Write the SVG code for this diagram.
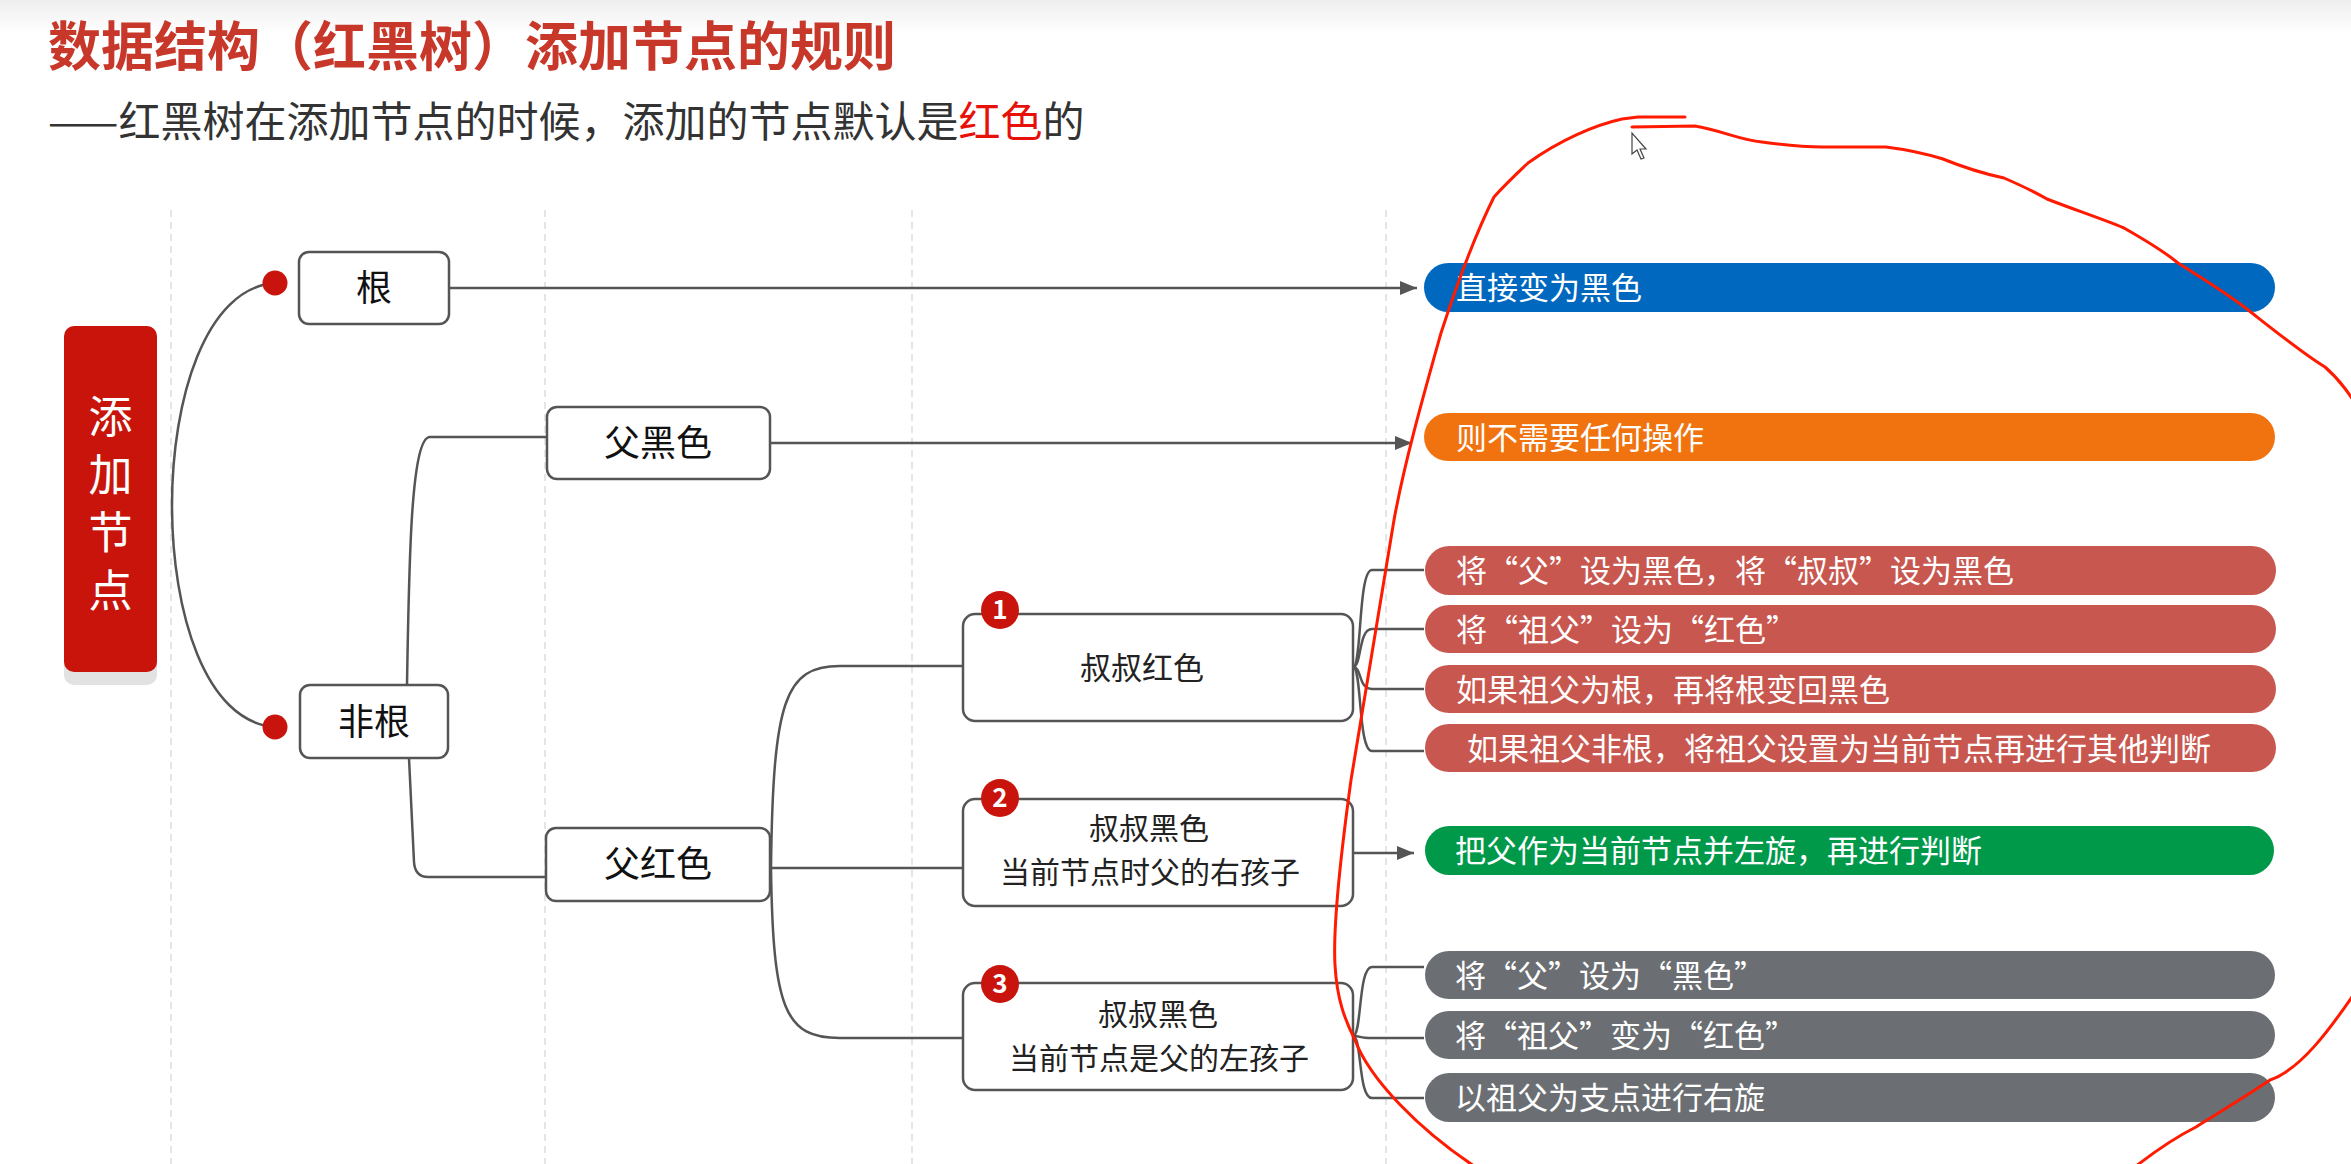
<svg xmlns="http://www.w3.org/2000/svg" width="2351" height="1164" viewBox="0 0 2351 1164">
<defs>
<linearGradient id="topband" x1="0" y1="0" x2="0" y2="1">
<stop offset="0" stop-color="#eeeeee"/>
<stop offset="1" stop-color="#ffffff"/>
</linearGradient>
<marker id="arr" viewBox="0 0 17 14" refX="17" refY="7" markerWidth="17" markerHeight="14" markerUnits="userSpaceOnUse" orient="auto">
<path d="M0,0 L17,7 L0,14 z" fill="#555"/>
</marker>
<style>
text{font-family:"Noto Sans CJK SC","Noto Sans",sans-serif;}
.title{font-size:53px;font-weight:bold;fill:#c8382a;}
.sub{font-size:42px;fill:#333;}
.box{fill:#fff;stroke:#555;stroke-width:2.5;}
.t36{font-size:36px;fill:#111;text-anchor:middle;}
.t31{font-size:31px;fill:#222;text-anchor:middle;}
.t30{font-size:30px;fill:#222;text-anchor:middle;}
.pt{font-size:31px;fill:#fff;}
.con{fill:none;stroke:#555;stroke-width:2.5;}
.dash{stroke:#dddddd;stroke-width:1.5;stroke-dasharray:7 5;}
.badge{fill:#c8140c;}
.bt{font-size:26px;font-weight:bold;fill:#fff;text-anchor:middle;}
.ann{fill:none;stroke:#ff1a00;stroke-width:3;stroke-linecap:round;stroke-linejoin:round;}
</style>
</defs>
<rect x="0" y="0" width="2351" height="1164" fill="#ffffff"/>
<rect x="0" y="0" width="2351" height="34" fill="url(#topband)"/>

<g id="guides">
<line class="dash" x1="171" y1="210" x2="171" y2="1164"/>
<line class="dash" x1="545" y1="210" x2="545" y2="1164"/>
<line class="dash" x1="912" y1="210" x2="912" y2="1164"/>
<line class="dash" x1="1386" y1="210" x2="1386" y2="1164"/>
</g>

<g id="heading">
<text class="title" x="48" y="66">数据结构（红黑树）添加节点的规则</text>
<text class="sub" x="48" y="137">——红黑树在添加节点的时候，添加的节点默认是<tspan fill="#e8110a">红色</tspan>的</text>
</g>

<g id="connectors">
<path class="con" d="M275,283 C205,288 172,400 172,505 C172,612 205,722 275,727"/>
<circle cx="275" cy="283" r="12.5" fill="#c8140c"/>
<circle cx="275" cy="727" r="12.5" fill="#c8140c"/>
<path class="con" d="M449,288 L1417,288" marker-end="url(#arr)"/>
<path class="con" d="M407,685 C409,560 411,437 430,437 L547,437"/>
<path class="con" d="M770,443 L1412,443" marker-end="url(#arr)"/>
<path class="con" d="M409,758 L414,862 Q415,877 428,877 L546,877"/>
<path class="con" d="M771,868 C773,700 785,666 840,666 L963,666"/>
<path class="con" d="M770,868 L963,868"/>
<path class="con" d="M771,868 C773,1010 785,1038 840,1038 L963,1038"/>
<path class="con" d="M1353,667 C1362,667 1358,570 1372,570 L1424,570"/>
<path class="con" d="M1353,667 C1362,667 1358,629 1372,629 L1424,629"/>
<path class="con" d="M1353,667 C1362,667 1358,689 1372,689 L1424,689"/>
<path class="con" d="M1353,667 C1362,667 1358,751 1372,751 L1424,751"/>
<path class="con" d="M1353,853 L1414,853" marker-end="url(#arr)"/>
<path class="con" d="M1353,1036 C1362,1036 1358,967 1372,967 L1424,967"/>
<path class="con" d="M1353,1036 C1362,1036 1358,1038 1372,1038 L1424,1038"/>
<path class="con" d="M1353,1036 C1362,1036 1358,1098 1372,1098 L1424,1098"/>
</g>

<g id="node-root">
<rect x="64" y="340" width="93" height="345" rx="10" fill="#e2e2e2"/>
<rect x="64" y="326" width="93" height="346" rx="10" fill="#c8140a"/>
<text x="110.5" y="394" font-size="44" fill="#fff" writing-mode="tb" letter-spacing="14" glyph-orientation-vertical="0">添加节点</text>
</g>

<g id="node-gen">
<rect class="box" x="299" y="252" width="150" height="72" rx="10"/>
<text class="t36" x="374" y="301">根</text>
</g>
<g id="node-feigen">
<rect class="box" x="300" y="685" width="148" height="73" rx="10"/>
<text class="t36" x="374" y="735">非根</text>
</g>
<g id="node-fuhei">
<rect class="box" x="547" y="407" width="223" height="72" rx="10"/>
<text class="t36" x="658" y="456">父黑色</text>
</g>
<g id="node-fuhong">
<rect class="box" x="546" y="828" width="224" height="73" rx="10"/>
<text class="t36" x="658" y="877">父红色</text>
</g>

<g id="node-case1">
<rect class="box" x="963" y="614" width="390" height="107" rx="12"/>
<text class="t31" x="1142" y="679">叔叔红色</text>
<circle class="badge" cx="1000" cy="610" r="19"/>
<text class="bt" x="1000" y="619">1</text>
</g>
<g id="node-case2">
<rect class="box" x="963" y="799" width="390" height="107" rx="12"/>
<text class="t30" x="1149" y="839">叔叔黑色</text>
<text class="t30" x="1150" y="883">当前节点时父的右孩子</text>
<circle class="badge" cx="1000" cy="798" r="19"/>
<text class="bt" x="1000" y="807">2</text>
</g>
<g id="node-case3">
<rect class="box" x="963" y="983" width="390" height="107" rx="12"/>
<text class="t30" x="1158" y="1025">叔叔黑色</text>
<text class="t30" x="1159" y="1069">当前节点是父的左孩子</text>
<circle class="badge" cx="1000" cy="984" r="19"/>
<text class="bt" x="1000" y="993">3</text>
</g>

<g id="pill-blue">
<rect x="1424" y="263" width="851" height="49" rx="24.5" fill="#0068be"/>
<text class="pt" x="1456" y="299">直接变为黑色</text>
</g>
<g id="pill-orange">
<rect x="1424" y="413" width="851" height="48" rx="24" fill="#f0730f"/>
<text class="pt" x="1456" y="449">则不需要任何操作</text>
</g>
<g id="pill-r1">
<rect x="1425" y="546" width="851" height="49" rx="24.5" fill="#c8584f"/>
<text class="pt" x="1456" y="582">将“父”设为黑色，将“叔叔”设为黑色</text>
</g>
<g id="pill-r2">
<rect x="1425" y="605" width="851" height="48" rx="24" fill="#c8584f"/>
<text class="pt" x="1456" y="641">将“祖父”设为“红色”</text>
</g>
<g id="pill-r3">
<rect x="1425" y="665" width="851" height="48" rx="24" fill="#c8584f"/>
<text class="pt" x="1456" y="701">如果祖父为根，再将根变回黑色</text>
</g>
<g id="pill-r4">
<rect x="1425" y="724" width="851" height="48" rx="24" fill="#c8584f"/>
<text class="pt" x="1467" y="760">如果祖父非根，将祖父设置为当前节点再进行其他判断</text>
</g>
<g id="pill-green">
<rect x="1425" y="826" width="849" height="49" rx="24.5" fill="#00994a"/>
<text class="pt" x="1455" y="862">把父作为当前节点并左旋，再进行判断</text>
</g>
<g id="pill-g1">
<rect x="1425" y="951" width="850" height="48" rx="24" fill="#6b6f73"/>
<text class="pt" x="1455" y="987">将“父”设为“黑色”</text>
</g>
<g id="pill-g2">
<rect x="1425" y="1011" width="850" height="48" rx="24" fill="#6b6f73"/>
<text class="pt" x="1455" y="1047">将“祖父”变为“红色”</text>
</g>
<g id="pill-g3">
<rect x="1425" y="1073" width="850" height="49" rx="24.5" fill="#6b6f73"/>
<text class="pt" x="1455" y="1109">以祖父为支点进行右旋</text>
</g>

<g id="annotation">
<path class="ann" d="M1685,117 L1638,117 L1622,119 C1595,125 1560,140 1528,163 C1512,178 1502,188 1494,197 C1475,235 1455,290 1441,333 C1425,390 1405,460 1394,520 C1380,600 1365,700 1351,780 C1340,860 1333,930 1335,965 C1337,1000 1345,1020 1355,1040 C1370,1080 1420,1130 1474,1166"/>
<path class="ann" d="M1632,127 L1695,126 C1720,130 1740,140 1762,142 C1790,146 1810,147 1823,147 L1886,147 C1910,150 1930,155 1943,159 C1965,168 1990,175 2004,178 C2020,185 2035,192 2047,199 C2075,210 2100,218 2124,228 C2145,240 2165,252 2178,263 C2205,280 2230,295 2252,313 C2280,335 2305,355 2325,367 C2340,380 2350,395 2360,410"/>
<path class="ann" d="M2360,985 C2330,1030 2300,1070 2270,1080 C2240,1100 2215,1115 2196,1127 C2170,1140 2150,1155 2131,1170"/>
<path d="M1632,133 L1632,154 L1637,150 L1641,159 L1644,158 L1640,149 L1646,149 z" fill="#fff" stroke="#444" stroke-width="1.2"/>
</g>
</svg>
